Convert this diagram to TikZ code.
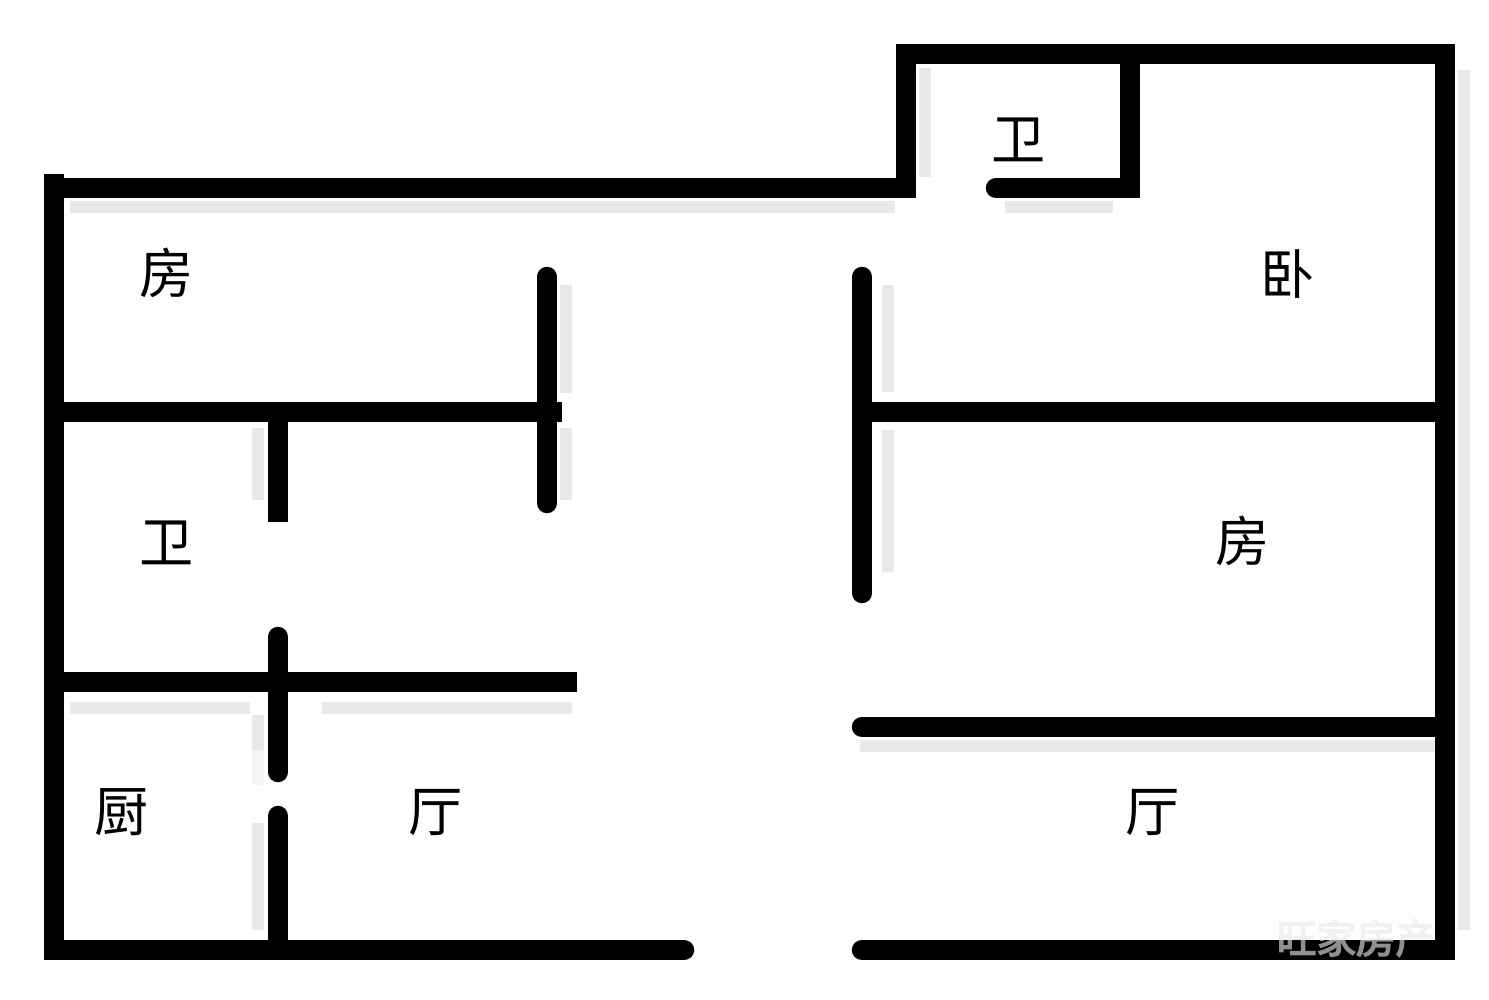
\documentclass[tikz,border=0pt]{standalone}
\usepackage{fontspec}
\newfontfamily\cjk{Noto Sans CJK SC}
\newfontfamily\cjkb[FakeBold=4]{Noto Sans CJK SC}
\definecolor{shade}{gray}{0.915}
\definecolor{shadefaint}{gray}{0.96}
\definecolor{mgray}{gray}{0.56}
\tikzset{
  wallthick/.style={line width=9.84pt,draw=black,line cap=round},
  wallbutt/.style={line width=9.84pt,draw=black,line cap=butt},
  shadowline/.style={line width=6pt,draw=shade,line cap=butt},
  room/.style={font=\cjk\fontsize{26}{26}\selectfont,text=black,inner sep=0pt}
}
\begin{document}
\begin{tikzpicture}[x=0.48pt,y=-0.48pt]
\useasboundingbox (0,0) rectangle (1489,1000);
\fill[white] (0,0) rectangle (1489,1000);
% soft shadows
\foreach \a/\b/\c/\d in {
 70/207/895/207, 925/68/925/177, 1005/207/1113/207, 1464/70/1464/930,
 566/285/566/393, 566/428/566/500, 888/285/888/392, 888/430/888/572,
 258/428/258/500, 70/708/250/708, 322/708/572/708, 860/746/1435/746,
 258/715/258/750, 258/823/258/930}{
 \draw[shadowline] (\a,\b) -- (\c,\d);
}
\draw[shadowline,draw=shadefaint] (258,750) -- (258,785);
% walls
\coordinate (a1) at (54,950);
\coordinate (a2) at (54,174);
\coordinate (a3) at (906,188);
\coordinate (a4) at (906,54);
\coordinate (a5) at (1445,54);
\coordinate (a6) at (1445,950);
\coordinate (a7) at (862,950);
\coordinate (a8) at (684,950);
\coordinate (a9) at (54,188);
\draw[wallthick,line cap=butt,line join=miter] (a2) -- (a1) -- (676,950);
\draw[wallthick] (676,950) -- (a8);
\draw[wallbutt,line join=miter] (a9) -- (a3) -- (a4) -- (a5) -- (a6) -- (870,950);
\draw[wallthick] (870,950) -- (a7);
\coordinate (b1) at (1130,60);
\coordinate (b2) at (1130,188);
\coordinate (b3) at (996,188);
\draw[wallthick,line join=miter] (b1) -- (b2) -- (b3);
\draw[wallthick] (547,277) -- (547,503);
\draw[wallthick] (862,277) -- (862,593);
\draw[wallbutt] (54,412) -- (562,412);
\draw[wallbutt] (862,412) -- (1445,412);
\draw[wallbutt] (278,412) -- (278,522);
\draw[wallbutt] (54,682) -- (577,682);
\draw[wallthick] (278,637) -- (278,772);
\draw[wallthick] (278,816) -- (278,940);
\draw[wallthick] (862,727) -- (1440,727);
% labels
\node[room] (n1) at (167,273) {房};
\node[room] (n2) at (1288,274) {卧};
\node[room] (n3) at (1019,140) {卫};
\node[room] (n4) at (167,543) {卫};
\node[room] (n5) at (1243,541) {房};
\node[room] (n6) at (122,812) {厨};
\node[room] (n7) at (436,813) {厅};
\node[room] (n8) at (1153,813) {厅};
% watermark: grey over the wall, almost white over the paper
\node[font=\cjkb\fontsize{19}{19}\selectfont,text=mgray,inner sep=0pt] (wm) at (1356,938) {旺家房产};
\fill[white,opacity=0.88] (1270,915) rectangle (1435,940);
\end{tikzpicture}
\end{document}
